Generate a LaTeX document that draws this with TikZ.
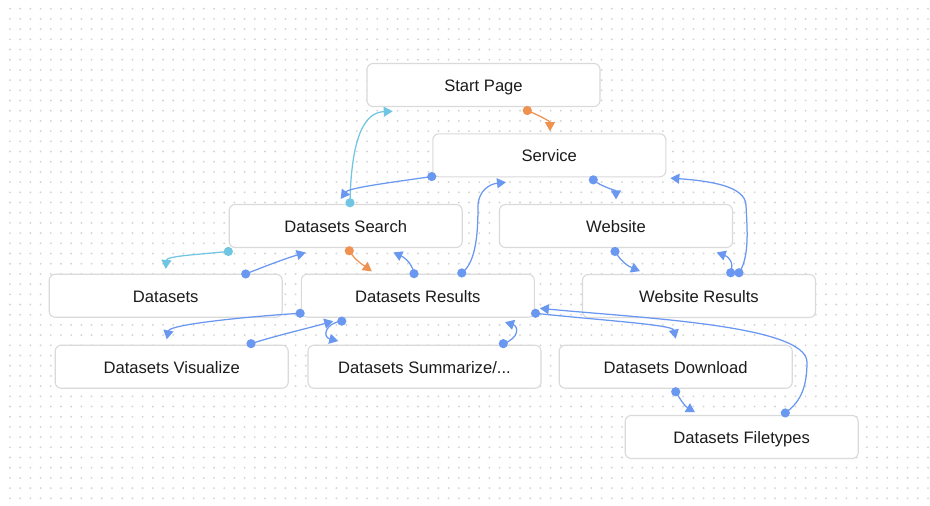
\documentclass[tikz,border=0pt]{standalone}
\usepackage{fontspec}
\setmainfont{Liberation Sans}
\usetikzlibrary{arrows.meta}

\definecolor{flowblue}{HTML}{6A98F0}
\definecolor{floworange}{HTML}{EF9150}
\definecolor{flowcyan}{HTML}{70C6E2}
\definecolor{boxline}{HTML}{DADADA}
\definecolor{griddot}{HTML}{D4D4D4}
\definecolor{labeltext}{HTML}{1C1C1C}

\tikzset{
  screen/.style={rounded corners=6pt, draw=boxline, line width=1.1pt, fill=white,
    minimum width=233pt, minimum height=43pt, inner sep=0pt,
    text height=13pt, text depth=0pt,
    text=labeltext, font=\fontsize{16.6}{19}\selectfont},
  flow/.style={line width=1.25pt, draw=#1,
    -{Triangle[width=10pt,length=9pt]}},
  flowdot/.style={fill=#1},
}

% connector with a dot at its source and a triangle at its target
\newcommand\flowlink[4]{%
  \draw[flow=#1] (#2) #3 (#4);
  \fill[flowdot=#1] (#2) circle (4.6pt);
}

\begin{document}
\begin{tikzpicture}[x=1pt,y=-1pt]
  \useasboundingbox (0,0) rectangle (930,506);
  \fill[white] (0,0) rectangle (930,506);

  % dotted canvas
  \foreach \i in {0,...,90}{
    \foreach \j in {0,...,48}{
      \fill[griddot] (10+10.2*\i, 8.7+10.2*\j) circle (1.05pt);
    }
  }

  % screens
  \node[screen] (start)     at (483.5,85)    {Start Page};
  \node[screen] (service)   at (549.3,155.3) {Service};
  \node[screen] (search)    at (345.7,226)   {Datasets Search};
  \node[screen] (website)   at (616,226)     {Website};
  \node[screen] (datasets)  at (165.7,295.7) {Datasets};
  \node[screen] (results)   at (417.8,295.7) {Datasets Results};
  \node[screen] (webres)    at (699,296)     {Website Results};
  \node[screen] (visualize) at (171.7,366.7) {Datasets Visualize};
  \node[screen] (summarize) at (424.5,366.7) {Datasets Summarize/...};
  \node[screen] (download)  at (675.7,366.7) {Datasets Download};
  \node[screen] (filetypes) at (741.7,437)   {Datasets Filetypes};

  % attachment points on the screens
  \coordinate (startS)   at ([xshift=43.8pt,yshift=-3.5pt]start.south);
  \coordinate (startIn)  at ([xshift=26.3pt,yshift=-4.2pt]start.south west);

  \coordinate (servIn)   at ([xshift=0.7pt,yshift=2.1pt]service.north);
  \coordinate (servSW)   at ([xshift=-0.5pt,yshift=0.8pt]service.south west);
  \coordinate (servS)    at ([xshift=44pt,yshift=-2.5pt]service.south);
  \coordinate (servInL)  at ([xshift=-43.3pt,yshift=-4.9pt]service.south);
  \coordinate (servInR)  at ([xshift=4pt,yshift=-0.7pt]service.south east);

  \coordinate (searchN)  at ([xshift=4.3pt,yshift=1.2pt]search.north);
  \coordinate (searchIn) at ([xshift=-5pt,yshift=5pt]search.north);
  \coordinate (searchSW) at ([xshift=-0.3pt,yshift=-3.4pt]search.south west);
  \coordinate (searchS)  at ([xshift=3.6pt,yshift=-2.7pt]search.south);
  \coordinate (searchInL) at ([xshift=-40pt,yshift=-4.4pt]search.south);
  \coordinate (searchInR) at ([xshift=47.6pt,yshift=-4.4pt]search.south);

  \coordinate (webIn)    at ([yshift=4.5pt]website.north);
  \coordinate (webS)     at ([xshift=-1pt,yshift=-3.4pt]website.south);
  \coordinate (webInR)   at ([xshift=100.7pt,yshift=-4.4pt]website.south);

  \coordinate (dsIn)     at ([yshift=4.7pt]datasets.north);
  \coordinate (dsN)      at ([xshift=80pt,yshift=-0.3pt]datasets.north);

  \coordinate (resIn)    at ([xshift=-46pt,yshift=2.3pt]results.north);
  \coordinate (resNa)    at ([xshift=-3.8pt]results.north);
  \coordinate (resNb)    at ([xshift=44pt,yshift=0.7pt]results.north);
  \coordinate (resW)     at ([yshift=-17.6pt,xshift=-0.6pt]results.west);
  \coordinate (resS)     at ([xshift=-76pt,yshift=-3.4pt]results.south);
  \coordinate (resInL)   at ([xshift=-84.5pt,yshift=-3.4pt]results.south);
  \coordinate (resInR)   at ([xshift=87.2pt,yshift=-4.4pt]results.south);
  \coordinate (resE)     at ([xshift=0.7pt,yshift=-17.6pt]results.east);
  \coordinate (resInE)   at ([xshift=5pt,yshift=-12.6pt]results.east);

  \coordinate (wrIn)     at ([xshift=-59pt,yshift=2.8pt]webres.north);
  \coordinate (wrNa)     at ([xshift=31.7pt,yshift=1.2pt]webres.north);
  \coordinate (wrNb)     at ([xshift=40pt,yshift=1.2pt]webres.north);

  \coordinate (visIn)    at ([xshift=-5pt,yshift=5.3pt]visualize.north);
  \coordinate (visN)     at ([xshift=79.3pt,yshift=1pt]visualize.north);

  \coordinate (sumIn)    at ([xshift=-86.2pt,yshift=3.6pt]summarize.north);
  \coordinate (sumN)     at ([xshift=78.8pt,yshift=1pt]summarize.north);

  \coordinate (dlIn)     at ([yshift=6pt]download.north);
  \coordinate (dlS)      at ([yshift=-3pt]download.south);

  \coordinate (ftIn)     at ([xshift=-46.7pt,yshift=2.7pt]filetypes.north);
  \coordinate (ftN)      at ([xshift=43.6pt,yshift=2pt]filetypes.north);

  % connectors
  \flowlink{floworange}{startS}{.. controls +(12,5) and +(0,-10) ..}{servIn}
  \flowlink{flowcyan}{searchN}{.. controls +(1.5,-80) and +(-22,1) ..}{startIn}
  \flowlink{flowblue}{servSW}{.. controls +(-42,6) and +(8,-11) ..}{searchIn}
  \flowlink{flowblue}{servS}{.. controls +(8,7) and +(0,-9) ..}{webIn}
  \flowlink{flowblue}{wrNb}{.. controls +(11,-16) and +(1,22) .. (746,205) .. controls (745,186) and (710,181) ..}{servInR}
  \flowlink{flowblue}{resNb}{.. controls +(15,-11) and +(0,25) .. (478,205) .. controls (479,190) and (490,184) ..}{servInL}
  \flowlink{flowcyan}{searchSW}{.. controls +(-29,3) and +(1,-13) ..}{dsIn}
  \flowlink{flowblue}{dsN}{.. controls +(20,-8) and +(-20,6) ..}{searchInL}
  \flowlink{floworange}{searchS}{.. controls +(6,10) and +(-8,-6) ..}{resIn}
  \flowlink{flowblue}{resNa}{.. controls +(-2,-12) and +(9,4) ..}{searchInR}
  \flowlink{flowblue}{webS}{.. controls +(6,10) and +(-12,-5) ..}{wrIn}
  \flowlink{flowblue}{wrNa}{.. controls +(4,-11) and +(11,4) ..}{webInR}
  \flowlink{flowblue}{resW}{.. controls +(-50,3) and +(3,-15) ..}{visIn}
  \flowlink{flowblue}{visN}{.. controls +(25,-8) and +(-25,7) ..}{resInL}
  \flowlink{flowblue}{resS}{.. controls +(-17,2) and +(-16,-4) ..}{sumIn}
  \flowlink{flowblue}{sumN}{.. controls +(17,-6) and +(13,4) ..}{resInR}
  \flowlink{flowblue}{resE}{.. controls +(65,7) and +(-3,-14) ..}{dlIn}
  \flowlink{flowblue}{ftN}{.. controls +(17,-12) and +(0,22) .. (807,362) .. controls (806,325) and (640,318) ..}{resInE}
  \flowlink{flowblue}{dlS}{.. controls +(6,10) and +(-10,-6) ..}{ftIn}
\end{tikzpicture}
\end{document}
